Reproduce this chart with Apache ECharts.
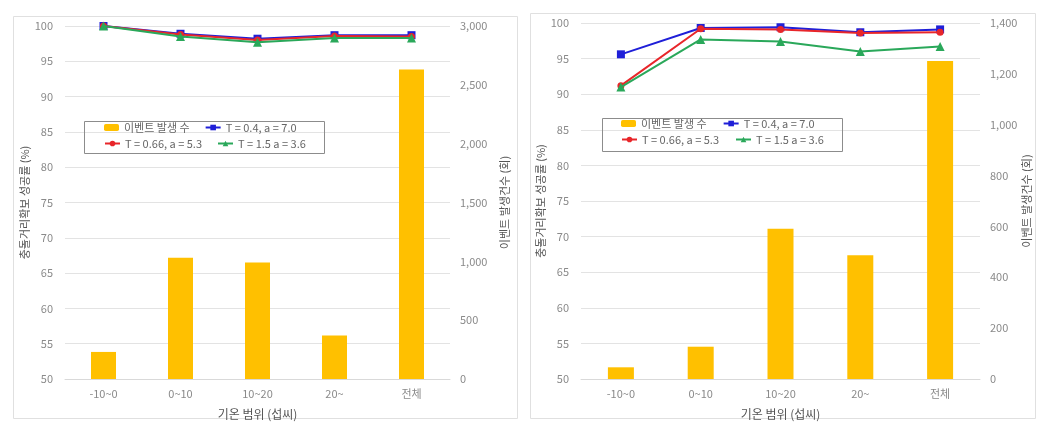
<!DOCTYPE html>
<html>
<head>
<meta charset="utf-8">
<script src="https://cdn.jsdelivr.net/npm/echarts@6/dist/echarts.min.js"></script>
<style>
  html, body { margin: 0; padding: 0; background: #fff; }
  #chart { width: 1058px; height: 428px; }
</style>
</head>
<body>
<div id="chart"></div>
<script>
// 공통 데이터
const categories = ["-10~0", "0~10", "10~20", "20~", "전체"];
const seriesNames = ["이벤트 발생 수", "T = 0.4, a = 7.0", "T = 0.66, a = 5.3", "T = 1.5 a = 3.6"];

// 왼쪽 차트
const leftEvents = [230, 1030, 990, 370, 2630];
const leftT04 = [100, 98.9, 98.2, 98.7, 98.7];
const leftT066 = [100, 98.8, 98.0, 98.6, 98.5];
const leftT15 = [100, 98.5, 97.7, 98.3, 98.3];

// 오른쪽 차트
const rightEvents = [46, 127, 591, 487, 1251];
const rightT04 = [95.6, 99.3, 99.4, 98.7, 99.1];
const rightT066 = [91.2, 99.2, 99.1, 98.6, 98.7];
const rightT15 = [91.0, 97.7, 97.4, 96.0, 96.7];

const font = "'Noto Sans CJK KR', 'Noto Sans', sans-serif";
const labelColor = "#8a8a8a";
const titleColor = "#555";
const gridColor = "#e3e3e3";
const colors = ["#ffc000", "#1f1fd8", "#e8262a", "#2aa85a"];
const symbols = ["rect", "rect", "circle", "triangle"];

function xAxis(gridIndex) {
  return {
    type: "category",
    gridIndex: gridIndex,
    data: categories,
    axisLine: { lineStyle: { color: "#d9d9d9" } },
    axisTick: { show: false },
    axisLabel: { color: labelColor, fontSize: 11, fontFamily: font, margin: 9 },
    name: "기온 범위 (섭씨)",
    nameLocation: "middle",
    nameGap: 29,
    nameTextStyle: { color: titleColor, fontSize: 12, fontFamily: font }
  };
}

function leftAxis(gridIndex, gap) {
  return {
    type: "value",
    gridIndex: gridIndex,
    min: 50,
    max: 100,
    interval: 5,
    axisLine: { show: false },
    axisTick: { show: false },
    splitLine: { lineStyle: { color: gridColor } },
    axisLabel: { color: labelColor, fontSize: 11, fontFamily: font, margin: 12 },
    name: "충돌거리확보 성공률 (%)",
    nameLocation: "middle",
    nameRotate: 90,
    nameGap: gap,
    nameTextStyle: { color: titleColor, fontSize: 11, fontFamily: font }
  };
}

function rightAxis(gridIndex, max, interval, gap) {
  return {
    type: "value",
    gridIndex: gridIndex,
    position: "right",
    min: 0,
    max: max,
    interval: interval,
    axisLine: { show: false },
    axisTick: { show: false },
    splitLine: { show: false },
    axisLabel: {
      color: labelColor, fontSize: 11, fontFamily: font, margin: 10,
      formatter: v => v.toLocaleString("en-US")
    },
    name: "이벤트 발생건수 (회)",
    nameLocation: "middle",
    nameRotate: 90,
    nameGap: gap,
    nameTextStyle: { color: titleColor, fontSize: 11, fontFamily: font }
  };
}

function makeSeries(idx, events, lines, barWidth) {
  const out = [{
    name: seriesNames[0],
    type: "bar",
    xAxisIndex: idx,
    yAxisIndex: idx * 2 + 1,
    data: events,
    barWidth: barWidth,
    itemStyle: { color: colors[0] },
    z: 1
  }];
  lines.forEach((d, i) => {
    out.push({
      name: seriesNames[i + 1],
      type: "line",
      xAxisIndex: idx,
      yAxisIndex: idx * 2,
      data: d,
      symbol: symbols[i + 1],
      symbolSize: i === 0 ? 8 : (i === 1 ? 7 : 9),
      lineStyle: { color: colors[i + 1], width: 2 },
      itemStyle: { color: colors[i + 1] },
      z: 3 + i
    });
  });
  return out;
}

// 범례 (두 줄 x 두 칸)
function legends(left, top, colGap) {
  const common = {
    orient: "horizontal",
    itemWidth: 15,
    itemHeight: 7,
    itemGap: colGap - 15 - 5 - 85,
    padding: 0,
    textStyle: { color: "#666", fontSize: 11, fontFamily: font, width: 85 }
  };
  return [
    Object.assign({}, common, { left: left, top: top, data: [seriesNames[0], seriesNames[1]] }),
    Object.assign({}, common, { left: left, top: top + 16, data: [seriesNames[2], seriesNames[3]] })
  ];
}

const chart = echarts.init(document.getElementById("chart"));

const option = {
  backgroundColor: "#fff",
  animation: false,
  grid: [
    { left: 65, right: 608, top: 26, bottom: 49 },
    { left: 581, right: 78, top: 23, bottom: 49 }
  ],
  xAxis: [xAxis(0), xAxis(1)],
  yAxis: [
    leftAxis(0, 33), rightAxis(0, 3000, 500, 49),
    leftAxis(1, 32), rightAxis(1, 1400, 200, 39)
  ],
  legend: legends(104, 122, 120).concat(legends(621, 118, 121)),
  series: makeSeries(0, leftEvents, [leftT04, leftT066, leftT15], 25)
    .concat(makeSeries(1, rightEvents, [rightT04, rightT066, rightT15], 26)),
  graphic: [
    // 패널 테두리
    { type: "rect", shape: { x: 13.5, y: 16.5, width: 504, height: 402 }, style: { fill: "none", stroke: "#e0e0e0" }, silent: true },
    { type: "rect", shape: { x: 530.5, y: 13.5, width: 505, height: 405 }, style: { fill: "none", stroke: "#e0e0e0" }, silent: true },
    // 범례 테두리
    { type: "rect", shape: { x: 84.5, y: 121.5, width: 240, height: 32 }, style: { fill: "none", stroke: "#8c8c8c" }, silent: true, z: 10 },
    { type: "rect", shape: { x: 602.5, y: 118.5, width: 240, height: 33 }, style: { fill: "none", stroke: "#8c8c8c" }, silent: true, z: 10 }
  ]
};

chart.setOption(option);
</script>
</body>
</html>
